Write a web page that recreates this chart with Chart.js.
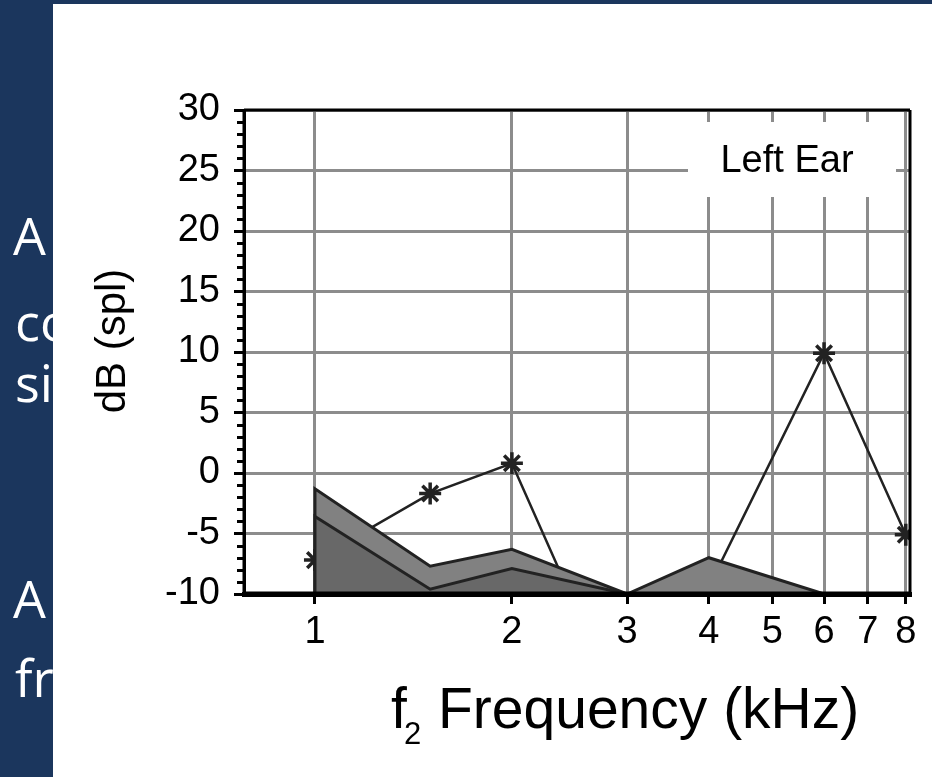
<!DOCTYPE html>
<html>
<head>
<meta charset="utf-8">
<script src="https://cdn.jsdelivr.net/npm/chart.js@4/dist/chart.umd.min.js"></script>
<style>
  html, body { margin:0; padding:0; }
  body { width:932px; height:777px; background:#1b365d; overflow:hidden; position:relative; }
  .side { position:absolute; left:13px; color:#fff; font-family:'Open Sans', 'Noto Sans', sans-serif; font-size:52px; line-height:52px; white-space:nowrap; }
  #panel { position:absolute; left:53px; top:4px; width:879px; height:773px; background:#fff; }
  #c { display:block; }
</style>
</head>
<body>
<div class="side" style="top:209px">A</div>
<div class="side" style="top:295px;left:15px">co</div>
<div class="side" style="top:356px;left:15px">si</div>
<div class="side" style="top:572px">A</div>
<div class="side" style="top:651px;left:15px">fr</div>
<div id="panel"><canvas id="c" width="879" height="773"></canvas></div>
<script>
// ---- data ----
const freqTicks   = [1, 2, 3, 4, 5, 6, 7, 8];            // kHz tick labels
const noiseFreqs  = [1, 1, 1.5, 2, 3, 4, 6, 8];          // kHz
const noiseUpper  = [-10, -1.3, -7.7, -6.3, -10, -7.0, -10, -10]; // dB SPL
const noiseLower  = [-10, -3.6, -9.6, -7.9, -10, -10, -10, -10];  // dB SPL
const dpFreqs     = [1, 1.5, 2, 2.5, 4, 6, 8];           // kHz
const dpLevels    = [-7.2, -1.7, 0.8, -11, -9.4, 9.9, -5.1]; // dB SPL
const yTitle = 'dB (spl)';
const xTitleMain = 'Frequency (kHz)';
const boxLabel = 'Left Ear';

const FONT = "'Liberation Sans', Arial, sans-serif";
const toPts = (xs, ys) => xs.map((x, i) => ({ x, y: ys[i] }));

const framePlugin = {
  id: 'frame',
  beforeDatasetsDraw(chart) {
    const { ctx, chartArea: a } = chart;
    // label box
    ctx.save();
    const bx = a.left + 444, by = a.top + 12, bw = 208, bh = 75;
    ctx.fillStyle = '#fff';
    ctx.fillRect(bx, by, bw, bh);
    ctx.fillStyle = '#000';
    ctx.font = '38px ' + FONT;
    ctx.textAlign = 'center';
    ctx.textBaseline = 'middle';
    ctx.fillText(boxLabel, bx + bw / 2 - 5, by + bh / 2 + 2);
    ctx.restore();
  },
  afterDraw(chart) {
    const { ctx, chartArea: a, scales } = chart;
    const y = scales.y;
    ctx.save();
    ctx.strokeStyle = '#000';
    // minor y ticks
    ctx.lineWidth = 3;
    for (let v = y.min; v <= y.max; v += 1) {
      if (v % 5 === 0) continue;
      const py = Math.round(y.getPixelForValue(v)) + 0.5;
      ctx.beginPath();
      ctx.moveTo(a.left - 7, py);
      ctx.lineTo(a.left, py);
      ctx.stroke();
    }
    // frame
    ctx.lineWidth = 3;
    ctx.beginPath();
    ctx.moveTo(a.left, a.top); ctx.lineTo(a.right, a.top);
    ctx.moveTo(a.right, a.top); ctx.lineTo(a.right, a.bottom);
    ctx.moveTo(a.left, a.top); ctx.lineTo(a.left, a.bottom);
    ctx.stroke();
    ctx.lineWidth = 5;
    ctx.beginPath();
    ctx.moveTo(a.left - 1, a.bottom); ctx.lineTo(a.right + 1, a.bottom);
    ctx.stroke();
    ctx.fillStyle = '#000';
    // y axis title
    ctx.save();
    ctx.translate(60, (a.top + a.bottom) / 2 - 11);
    ctx.rotate(-Math.PI / 2);
    ctx.font = '42px ' + FONT;
    ctx.textAlign = 'center';
    ctx.textBaseline = 'middle';
    ctx.fillText(yTitle, 0, 0);
    ctx.restore();
    // x axis title with subscript
    ctx.textBaseline = 'alphabetic';
    ctx.textAlign = 'left';
    const tx = a.left + 147, ty = a.bottom + 134;
    ctx.font = '57px ' + FONT;
    ctx.fillText('f', tx, ty);
    ctx.font = '31px ' + FONT;
    ctx.fillText('2', tx + 13, ty + 16);
    ctx.font = '57px ' + FONT;
    ctx.fillText(xTitleMain, tx + 47, ty);
    ctx.restore();
  }
};

new Chart(document.getElementById('c'), {
  type: 'line',
  data: {
    datasets: [
      { label: 'noise2', data: toPts(noiseFreqs, noiseLower), fill: 'start',
        backgroundColor: '#686868', borderColor: '#222', borderWidth: 3,
        pointRadius: 0, tension: 0, clip: 0 },
      { label: 'noise1', data: toPts(noiseFreqs, noiseUpper), fill: 'start',
        backgroundColor: '#818181', borderColor: '#222', borderWidth: 3,
        pointRadius: 0, tension: 0, clip: 0 },
      { label: 'DP', data: toPts(dpFreqs, dpLevels), fill: false,
        borderColor: '#222', borderWidth: 2.5, tension: 0,
        pointStyle: 'star', pointRadius: 11, pointBorderWidth: 3.5,
        pointBorderColor: '#222', pointBackgroundColor: '#222', clip: 0 }
    ]
  },
  options: {
    responsive: false,
    animation: false,
    devicePixelRatio: 1,
    layout: { padding: { left: 0, top: 106, right: 22, bottom: 0 } },
    plugins: { legend: { display: false }, tooltip: { enabled: false } },
    scales: {
      x: {
        type: 'logarithmic', position: 'bottom', min: 0.779, max: 8.12,
        afterBuildTicks: s => { s.ticks = freqTicks.map(v => ({ value: v })); },
        afterFit: s => { s.height = 183; },
        ticks: { autoSkip: false, maxRotation: 0, minRotation: 0, color: '#000',
                 font: { family: FONT, size: 38 }, padding: 6,
                 callback: v => String(v) },
        grid: { color: '#8c8c8c', lineWidth: 3, tickColor: '#000', tickWidth: 3, tickLength: 10 },
        border: { display: true, color: '#000', width: 5 }
      },
      y: {
        min: -10, max: 30,
        afterFit: s => { s.width = 191; },
        ticks: { stepSize: 5, color: '#000', font: { family: FONT, size: 38 }, padding: 14 },
        grid: { color: '#8c8c8c', lineWidth: 3, tickColor: '#000', tickWidth: 3, tickLength: 10 },
        border: { display: true, color: '#000', width: 3 }
      }
    }
  },
  plugins: [framePlugin]
});
</script>
</body>
</html>
